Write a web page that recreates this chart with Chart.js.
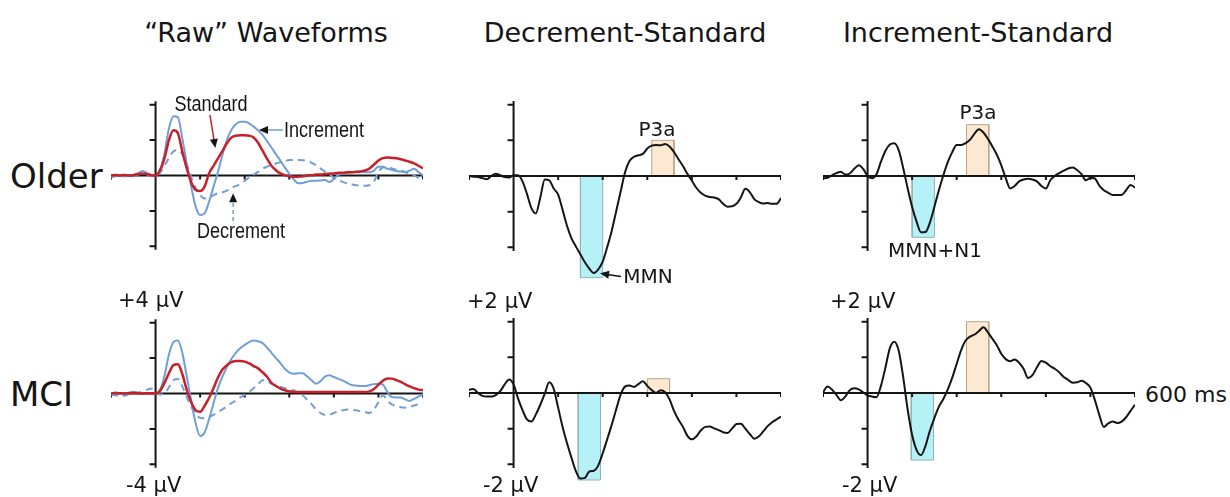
<!DOCTYPE html>
<html>
<head>
<meta charset="utf-8">
<script src="https://cdn.jsdelivr.net/npm/chart.js@4/dist/chart.umd.min.js"></script>
<style>
  body { margin: 0; background: #fff; }
  #fig { position: relative; width: 1230px; height: 497px; overflow: hidden; font-family: "DejaVu Sans", sans-serif; color: #151515; }
  canvas { position: absolute; }
  .c { position: absolute; white-space: nowrap; line-height: 1; transform: translate(-50%, -50%); }
  .l { position: absolute; white-space: nowrap; line-height: 1; transform: translateY(-50%); }
  .title { font-size: 27px; }
  .row { font-size: 34px; }
  .unit { font-size: 21px; }
  .peak { font-size: 20px; }
  .note { font-family: "Liberation Sans", Arial, sans-serif; font-size: 22px; transform: translate(-50%, -50%) scaleX(0.82); }
</style>
</head>
<body>
<div id="fig">
  <canvas id="rawOlder" width="312" height="177" style="left:111px;top:87px"></canvas>
  <canvas id="rawMci" width="312" height="177" style="left:111px;top:305px"></canvas>
  <canvas id="decOlder" width="312" height="214" style="left:469px;top:69px"></canvas>
  <canvas id="decMci" width="312" height="214" style="left:469px;top:286px"></canvas>
  <canvas id="incOlder" width="312" height="214" style="left:823px;top:69px"></canvas>
  <canvas id="incMci" width="312" height="214" style="left:823px;top:286px"></canvas>

  <div class="c title" style="left:266px;top:32px">“Raw” Waveforms</div>
  <div class="c title" style="left:625px;top:32px">Decrement-Standard</div>
  <div class="c title" style="left:978px;top:32px">Increment-Standard</div>

  <div class="l row" style="left:10px;top:176px">Older</div>
  <div class="l row" style="left:10px;top:394px">MCI</div>

  <div class="l unit" style="left:118px;top:300px">+4 µV</div>
  <div class="l unit" style="left:126px;top:485px">-4 µV</div>
  <div class="l unit" style="left:467px;top:301px">+2 µV</div>
  <div class="l unit" style="left:483px;top:485px">-2 µV</div>
  <div class="l unit" style="left:830px;top:301px">+2 µV</div>
  <div class="l unit" style="left:842px;top:485px">-2 µV</div>
  <div class="l unit" style="left:1145px;top:395px;font-size:22px">600 ms</div>

  <div class="c note" style="left:211px;top:104px">Standard</div>
  <div class="c note" style="left:324px;top:130px">Increment</div>
  <div class="c note" style="left:241px;top:231px">Decrement</div>

  <div class="c peak" style="left:657px;top:129px">P3a</div>
  <div class="c peak" style="left:648px;top:276px">MMN</div>
  <div class="c peak" style="left:978px;top:112px">P3a</div>
  <div class="c peak" style="left:935px;top:250px">MMN+N1</div>
</div>

<script>
// time base, ms (one sample every 10 ms)
const times = [-100, -90, -80, -70, -60, -50, -40, -30, -20, -10, 0,
  10, 20, 30, 40, 50, 60, 70, 80, 90, 100,
  110, 120, 130, 140, 150, 160, 170, 180, 190, 200,
  210, 220, 230, 240, 250, 260, 270, 280, 290, 300,
  310, 320, 330, 340, 350, 360, 370, 380, 390, 400,
  410, 420, 430, 440, 450, 460, 470, 480, 490, 500,
  510, 520, 530, 540, 550, 560, 570, 580, 590, 600];

// "Raw" waveforms (µV)
const olderStandard = [0, 0.02, 0, 0.03, 0, 0.02, 0.08, 0.12, 0.08, 0.02, 0,
  0.3, 0.97, 2.0, 2.55, 2.4, 1.35, 0.4, -0.38, -0.82, -0.88,
  -0.63, 0.12, 0.55, 0.97, 1.38, 1.82, 2.14, 2.25, 2.28, 2.28,
  2.25, 2.15, 1.85, 1.4, 0.95, 0.55, 0.3, 0.12, 0.02, -0.05,
  -0.07, -0.07, -0.05, 0, 0.02, 0.05, 0.05, 0.08, 0.1, 0.12,
  0.15, 0.15, 0.18, 0.18, 0.2, 0.22, 0.28, 0.4, 0.62, 0.85,
  0.98, 1.02, 1.0, 0.98, 0.92, 0.85, 0.78, 0.68, 0.55, 0.4];
const olderIncrement = [0, 0.05, 0, 0, -0.03, 0, 0.1, 0.25, 0.15, 0.02, 0,
  0.3, 1.25, 2.65, 3.35, 3.3, 2.1, 0.69, -0.63, -1.76, -2.23,
  -2.14, -1.48, -0.63, 0.21, 1.16, 2.0, 2.57, 2.89, 3.04, 3.04,
  2.95, 2.76, 2.55, 2.3, 1.94, 1.58, 1.2, 0.84, 0.46, 0.1,
  -0.22, -0.44, -0.42, -0.35, -0.3, -0.3, -0.28, -0.25, -0.37, -0.2,
  0.04, 0.1, 0.15, 0.19, 0.22, 0.22, 0.19, 0.19, 0.28, 0.5,
  0.5, 0.38, 0.32, 0.25, 0.22, 0.19, 0.28, 0.38, 0.19, 0];
const olderDecrement = [-0.1, -0.05, 0, -0.05, 0, 0, 0.05, 0.1, 0.05, 0, 0,
  0.15, 0.55, 1.0, 1.35, 1.45, 1.2, 0.6, -0.1, -0.7, -1.1,
  -1.3, -1.25, -1.12, -1.0, -0.95, -0.85, -0.7, -0.6, -0.48, -0.3,
  -0.12, 0.05, 0.2, 0.38, 0.5, 0.6, 0.68, 0.75, 0.82, 0.87,
  0.88, 0.88, 0.86, 0.82, 0.72, 0.58, 0.4, 0.22, 0.05, -0.12,
  -0.25, -0.36, -0.45, -0.5, -0.55, -0.58, -0.58, -0.55, -0.35, 0.2,
  0.45, 0.48, 0.4, 0.33, 0.28, 0.2, 0.1, 0, -0.12, -0.12];
const mciStandard = [0, 0.03, 0.02, 0, 0.02, 0.03, 0.02, 0, 0.02, 0.02, 0,
  0.15, 0.6, 1.15, 1.6, 1.65, 1.1, 0.2, -0.5, -0.95, -1.03,
  -0.7, -0.25, 0.3, 0.9, 1.35, 1.6, 1.77, 1.83, 1.84, 1.8,
  1.7, 1.55, 1.42, 1.2, 0.95, 0.6, 0.42, 0.28, 0.18, 0.12,
  0.08, 0.08, 0.08, 0.08, 0.08, 0.08, 0.08, 0.08, 0.08, 0.08,
  0.08, 0.08, 0.08, 0.08, 0.08, 0.08, 0.08, 0.12, 0.25, 0.5,
  0.72, 0.85, 0.84, 0.76, 0.65, 0.52, 0.4, 0.3, 0.22, 0.18];
const mciIncrement = [0, 0.05, 0, -0.05, 0.05, 0.1, 0.05, 0, 0, 0, 0,
  0.2, 1.0, 2.2, 2.9, 3.0, 2.3, 0.95, -0.4, -1.7, -2.4,
  -2.2, -1.45, -0.55, 0.3, 0.95, 1.5, 1.95, 2.3, 2.55, 2.75,
  2.9, 3.0, 2.95, 2.85, 2.6, 2.3, 2.0, 1.72, 1.4, 1.2,
  1.12, 1.15, 1.15, 0.97, 0.75, 0.55, 0.7, 0.95, 1.03, 0.93,
  0.83, 0.73, 0.6, 0.48, 0.45, 0.42, 0.42, 0.48, 0.53, 0.55,
  0.5, 0.1, -0.2, -0.22, -0.23, -0.33, -0.42, -0.3, -0.18, -0.03];
const mciDecrement = [-0.05, -0.1, -0.15, -0.12, -0.05, 0, 0.05, 0.1, 0.2, 0.28, 0.1,
  -0.05, 0, 0.35, 0.75, 0.82, 0.4, -0.2, -0.75, -1.15, -1.38,
  -1.4, -1.33, -1.2, -1.05, -0.9, -0.72, -0.55, -0.4, -0.22, -0.08,
  0.1, 0.3, 0.52, 0.75, 0.72, 0.55, 0.45, 0.38, 0.3, 0.22,
  0.18, 0.05, -0.1, -0.35, -0.6, -0.9, -1.1, -1.22, -1.2, -1.1,
  -1.0, -0.95, -0.9, -0.92, -0.95, -1.0, -1.05, -1.1, -0.9, -0.5,
  -0.1, -0.4, -0.62, -0.7, -0.78, -0.8, -0.75, -0.68, -0.6, -0.55];

// difference waves (µV)
const olderDecDiff = [0, -0.02, -0.03, -0.06, -0.09, 0, 0.06, 0.02, -0.03, -0.04, 0.02,
  0.02, -0.15, -0.5, -0.9, -1.05, -0.6, -0.1, -0.12, -0.35, -0.52,
  -0.95, -1.4, -1.75, -1.98, -2.2, -2.42, -2.6, -2.72, -2.62, -2.4,
  -2.0, -1.55, -1.0, -0.45, 0.1, 0.42, 0.54, 0.58, 0.62, 0.77,
  0.85, 0.87, 0.86, 0.9, 0.83, 0.67, 0.47, 0.28, 0.06, -0.13,
  -0.33, -0.47, -0.55, -0.59, -0.6, -0.65, -0.78, -0.86, -0.85, -0.78,
  -0.6, -0.36, -0.45, -0.65, -0.73, -0.77, -0.76, -0.78, -0.78, -0.62];
const mciDecDiff = [0.09, 0.11, 0, -0.08, -0.1, -0.1, -0.06, 0.05, 0.24, 0.38, 0.24,
  -0.15, -0.48, -0.74, -0.8, -0.6, -0.33, -0.02, 0.3, 0.12, -0.41,
  -0.95, -1.41, -1.82, -2.2, -2.4, -2.38, -2.2, -2.18, -2.03, -1.69,
  -1.3, -0.9, -0.47, -0.05, 0.18, 0.21, 0.17, 0.25, 0.33, 0.2,
  0.08, 0, 0.08, 0.02, -0.18, -0.5, -0.75, -0.95, -1.2, -1.3,
  -1.22, -1.05, -0.95, -0.94, -0.99, -1.04, -1.1, -1.12, -1.0, -0.87,
  -0.86, -1.0, -1.15, -1.28, -1.22, -1.08, -0.93, -0.82, -0.74, -0.66];
const olderIncDiff = [-0.07, -0.05, 0.02, 0.08, 0.12, 0.04, 0.07, 0.2, 0.3, 0.2, 0,
  -0.06, 0.05, 0.4, 0.7, 0.88, 0.92, 0.72, 0.22, -0.35, -0.87,
  -1.28, -1.58, -1.57, -1.3, -0.86, -0.4, 0.02, 0.39, 0.67, 0.87,
  0.87, 0.92, 1.02, 1.19, 1.31, 1.22, 1.04, 0.83, 0.6, 0.3,
  -0.06, -0.35, -0.28, -0.15, -0.1, -0.08, -0.1, -0.15, -0.28, -0.35,
  -0.12, 0, 0.08, 0.15, 0.21, 0.24, 0.17, 0.05, -0.12, -0.05,
  -0.07, -0.27, -0.4, -0.47, -0.53, -0.53, -0.53, -0.4, -0.25, -0.33];
const mciIncDiff = [0.02, 0.18, 0.1, -0.05, -0.2, -0.1, 0.08, 0.13, 0.1, 0.02, -0.07,
  -0.1, -0.12, 0.2, 0.71, 1.26, 1.44, 1.18, 0.44, -0.47, -1.18,
  -1.6, -1.74, -1.48, -1.05, -0.7, -0.38, -0.17, 0.1, 0.43, 0.82,
  1.2, 1.47, 1.58, 1.64, 1.74, 1.84, 1.7, 1.52, 1.34, 1.1,
  0.95, 0.89, 0.94, 0.85, 0.68, 0.42, 0.5, 0.72, 0.9, 0.85,
  0.75, 0.68, 0.58, 0.45, 0.37, 0.29, 0.3, 0.34, 0.28, 0.15,
  -0.2, -0.62, -0.95, -0.85, -0.8, -0.84, -0.8, -0.68, -0.5, -0.33];

// measurement windows (ms) and bar levels (µV)
const decOlderMmn = [150, 200], decOlderMmnLevel = -2.85;
const decOlderP3a = [310, 360], decOlderP3aLevel = 1.0;
const decMciMmn = [145, 195], decMciMmnLevel = -2.44;
const decMciP3a = [300, 350], decMciP3aLevel = 0.4;
const incOlderMmn = [100, 150], incOlderMmnLevel = -1.72;
const incOlderP3a = [222, 272], incOlderP3aLevel = 1.44;
const incMciMmn = [98, 148], incMciMmnLevel = -1.88;
const incMciP3a = [222, 272], incMciP3aLevel = 2.0;

// axis ticks
const timeTicks = [-100, 100, 200, 300, 400, 500, 600];
const rawTicks = [-4, -2, 2, 4];
const diffTicks = [-2, -1, 1, 2];

const RED = "#c8202a";
const BLUE = "#6f9fd6";
const INK = "#151515";
const MMN_FILL = "#b5f1f6", MMN_EDGE = "#8fb4b8";
const P3A_FILL = "#fde9d1", P3A_EDGE = "#b9a68c";

// axes crossing at zero, drawn under the waves but over the shaded windows
function erpAxes(yTicks, yReach, arrows) {
  let drawn = false;
  function drawAxes(chart) {
    const c = chart.ctx, xs = chart.scales.x, ys = chart.scales.y;
    const x0 = xs.getPixelForValue(0), y0 = ys.getPixelForValue(0);
    c.save();
    c.strokeStyle = INK;
    c.lineWidth = 2;
    c.beginPath();
    c.moveTo(xs.getPixelForValue(timeTicks[0]), y0);
    c.lineTo(xs.getPixelForValue(timeTicks[timeTicks.length - 1]), y0);
    timeTicks.forEach((t) => {
      const p = xs.getPixelForValue(t);
      c.moveTo(p, y0);
      c.lineTo(p, y0 + 4);
    });
    c.moveTo(x0, ys.getPixelForValue(yReach));
    c.lineTo(x0, ys.getPixelForValue(-yReach));
    yTicks.forEach((v) => {
      const p = ys.getPixelForValue(v);
      c.moveTo(x0 - 6, p);
      c.lineTo(x0, p);
    });
    c.stroke();
    c.restore();
  }
  return {
    id: "erpAxes",
    beforeDatasetsDraw() { drawn = false; },
    beforeDatasetDraw(chart, args) {
      if (drawn || chart.data.datasets[args.index].isBox) return;
      drawAxes(chart);
      drawn = true;
    },
    afterDatasetsDraw(chart) {
      const c = chart.ctx, xs = chart.scales.x, ys = chart.scales.y;
      (arrows || []).forEach((a) => {
        const x1 = xs.getPixelForValue(a.from[0]), y1 = ys.getPixelForValue(a.from[1]);
        const x2 = xs.getPixelForValue(a.to[0]), y2 = ys.getPixelForValue(a.to[1]);
        const ang = Math.atan2(y2 - y1, x2 - x1);
        const cs = Math.cos(ang), sn = Math.sin(ang);
        c.save();
        c.strokeStyle = a.color;
        c.lineWidth = 1.5;
        c.setLineDash(a.dash || []);
        c.beginPath();
        c.moveTo(x1, y1);
        c.lineTo(x2 - 7 * cs, y2 - 7 * sn);
        c.stroke();
        c.setLineDash([]);
        c.fillStyle = INK;
        c.beginPath();
        c.moveTo(x2, y2);
        c.lineTo(x2 - 9 * cs + 4 * sn, y2 - 9 * sn - 4 * cs);
        c.lineTo(x2 - 9 * cs - 4 * sn, y2 - 9 * sn + 4 * cs);
        c.closePath();
        c.fill();
        c.restore();
      });
    },
  };
}

function waveChart(id, yMax, yTicks, yReach, curves, boxes, arrows) {
  const datasets = curves.map((w) => ({
    data: times.map((t, i) => ({ x: t, y: w.values[i] })),
    borderColor: w.color,
    borderWidth: w.width || 2,
    borderDash: w.dash || [],
    pointRadius: 0,
    cubicInterpolationMode: "monotone",
    fill: false,
    order: 0,
  }));
  (boxes || []).forEach((b) => {
    datasets.push({
      data: [
        { x: b.win[0], y: 0 },
        { x: b.win[0], y: b.level },
        { x: b.win[1], y: b.level },
        { x: b.win[1], y: 0 },
      ],
      borderColor: b.edge,
      backgroundColor: b.fill,
      borderWidth: 1,
      pointRadius: 0,
      tension: 0,
      fill: "origin",
      order: 1,
      isBox: true,
    });
  });
  return new Chart(document.getElementById(id), {
    type: "line",
    data: { datasets },
    options: {
      responsive: false,
      animation: false,
      events: [],
      layout: { padding: 0 },
      scales: {
        x: { type: "linear", min: -100, max: 600, display: false },
        y: { min: -yMax, max: yMax, display: false },
      },
      plugins: {
        legend: { display: false },
        tooltip: { enabled: false },
      },
    },
    plugins: [erpAxes(yTicks, yReach, arrows)],
  });
}

const mmnBox = (win, level) => ({ win, level, fill: MMN_FILL, edge: MMN_EDGE });
const p3aBox = (win, level) => ({ win, level, fill: P3A_FILL, edge: P3A_EDGE });

waveChart("rawOlder", 5, rawTicks, 4.2, [
  { values: olderStandard, color: RED, width: 2.5 },
  { values: olderIncrement, color: BLUE, width: 2 },
  { values: olderDecrement, color: BLUE, width: 2, dash: [7, 5] },
], [], [
  { from: [122, 3.42], to: [134, 1.55], color: RED },
  { from: [286, 2.57], to: [232, 2.57], color: BLUE },
  { from: [174, -2.57], to: [174, -1.0], color: BLUE, dash: [4, 3] },
]);

waveChart("rawMci", 5, rawTicks, 4.2, [
  { values: mciStandard, color: RED, width: 2.5 },
  { values: mciIncrement, color: BLUE, width: 2 },
  { values: mciDecrement, color: BLUE, width: 2, dash: [7, 5] },
]);

waveChart("decOlder", 3, diffTicks, 2.1, [
  { values: olderDecDiff, color: INK, width: 2 },
], [mmnBox(decOlderMmn, decOlderMmnLevel), p3aBox(decOlderP3a, decOlderP3aLevel)], [
  { from: [241, -2.82], to: [194, -2.73], color: INK },
]);

waveChart("decMci", 3, diffTicks, 2.1, [
  { values: mciDecDiff, color: INK, width: 2 },
], [mmnBox(decMciMmn, decMciMmnLevel), p3aBox(decMciP3a, decMciP3aLevel)]);

waveChart("incOlder", 3, diffTicks, 2.1, [
  { values: olderIncDiff, color: INK, width: 2 },
], [mmnBox(incOlderMmn, incOlderMmnLevel), p3aBox(incOlderP3a, incOlderP3aLevel)]);

waveChart("incMci", 3, diffTicks, 2.1, [
  { values: mciIncDiff, color: INK, width: 2 },
], [mmnBox(incMciMmn, incMciMmnLevel), p3aBox(incMciP3a, incMciP3aLevel)]);
</script>
</body>
</html>
